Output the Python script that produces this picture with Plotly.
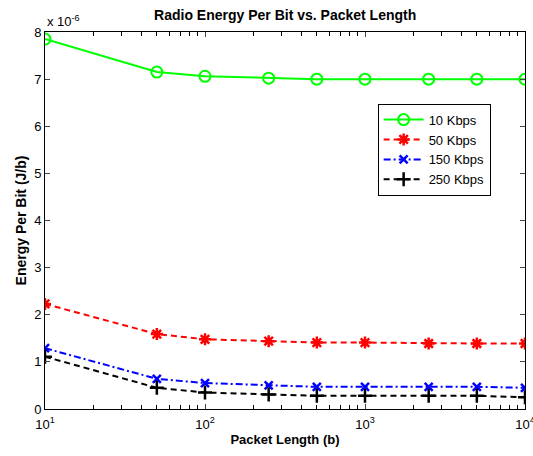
import plotly.graph_objects as go

packet_length = [10, 50, 100, 250, 500, 1000, 2500, 5000, 10000]
# Energy per bit in units of 1e-6 J/b
e_10kbps = [7.85, 7.15, 7.06, 7.02, 7.00, 7.00, 7.00, 7.00, 7.00]
e_50kbps = [2.23, 1.59, 1.48, 1.44, 1.41, 1.41, 1.39, 1.39, 1.39]
e_150kbps = [1.29, 0.64, 0.55, 0.50, 0.47, 0.47, 0.47, 0.47, 0.45]
e_250kbps = [1.11, 0.45, 0.35, 0.31, 0.28, 0.28, 0.28, 0.28, 0.25]

x_tickvals = [10, 100, 1000, 10000]
x_ticktext = ["10<sup>1</sup>", "10<sup>2</sup>", "10<sup>3</sup>", "10<sup>4</sup>"]
x_minor = [m * d for d in (10, 100, 1000) for m in range(2, 10)]
y_tickvals = [0, 1, 2, 3, 4, 5, 6, 7, 8]

font = "Liberation Sans, Arial, sans-serif"
x_range = [1, 4]

fig = go.Figure()
fig.add_trace(go.Scatter(x=packet_length, y=e_10kbps, name="10 Kbps", mode="lines+markers",
                         line=dict(color="#00ff00", width=2),
                         marker=dict(symbol="circle-open", size=11, color="#00ff00", line=dict(width=2))))
fig.add_trace(go.Scatter(x=packet_length, y=e_50kbps, name="50 Kbps", mode="lines+markers",
                         line=dict(color="#ff0000", width=2, dash="6px,4px"),
                         marker=dict(symbol="asterisk-open", size=10, color="#ff0000", line=dict(width=2.5, color="#ff0000"))))
fig.add_trace(go.Scatter(x=packet_length, y=e_150kbps, name="150 Kbps", mode="lines+markers",
                         line=dict(color="#0000ff", width=2, dash="7px,3px,2px,3px"),
                         marker=dict(symbol="x-thin-open", size=8, color="#0000ff", line=dict(width=2.5, color="#0000ff"))))
fig.add_trace(go.Scatter(x=packet_length, y=e_250kbps, name="250 Kbps", mode="lines+markers",
                         line=dict(color="#000000", width=2, dash="6px,4px"),
                         marker=dict(symbol="cross-thin-open", size=10, color="#000000", line=dict(width=2.5, color="#000000"))))
# empty helper trace so the minor-tick axis is drawn
fig.add_trace(go.Scatter(x=packet_length, y=[None] * len(packet_length), xaxis="x2", yaxis="y",
                         mode="lines", showlegend=False, hoverinfo="skip"))

fig.update_layout(
    width=533, height=456,
    margin=dict(l=45, r=8, t=32, b=47),
    paper_bgcolor="white", plot_bgcolor="white",
    font=dict(family=font, size=13, color="black"),
    title=dict(text="<b>Radio Energy Per Bit vs. Packet Length</b>", x=0.535, xanchor="center",
               y=0.967, yanchor="middle", font=dict(size=14)),
    showlegend=True,
    legend=dict(x=0.693, y=0.81, xanchor="left", yanchor="top", bgcolor="white",
                bordercolor="black", borderwidth=1, font=dict(size=13),
                tracegroupgap=0, itemwidth=40),
    xaxis=dict(type="log", range=x_range, tickvals=x_tickvals, ticktext=x_ticktext,
               ticks="inside", ticklen=5, mirror="ticks", showline=True, linecolor="black",
               linewidth=1, showgrid=False, zeroline=False, tickfont=dict(size=13),
               ticklabeloverflow="allow", ticklabelstandoff=3, automargin=False,
               title=dict(text="<b>Packet Length (b)</b>", font=dict(size=13), standoff=4)),
    xaxis2=dict(type="log", range=x_range, overlaying="x", side="bottom", tickvals=x_minor,
                showticklabels=False, ticks="inside", ticklen=4, tickwidth=1, tickcolor="black",
                mirror="ticks", showline=True, linecolor="black", showgrid=False,
                zeroline=False, anchor="y", automargin=False),
    yaxis=dict(range=[0, 8], tickvals=y_tickvals, ticks="inside", ticklen=5, mirror="ticks",
               showline=True, linecolor="black", linewidth=1, showgrid=False, zeroline=False,
               tickfont=dict(size=13), automargin=False,
               title=dict(text="<b>Energy Per Bit (J/b)</b>", font=dict(size=14), standoff=4)),
)
fig.add_annotation(text="x 10<sup>-6</sup>", xref="paper", yref="paper", x=0.0, y=1.0,
                   xanchor="left", yanchor="bottom", yshift=1, showarrow=False, font=dict(size=13))

fig.write_html("out.html")
